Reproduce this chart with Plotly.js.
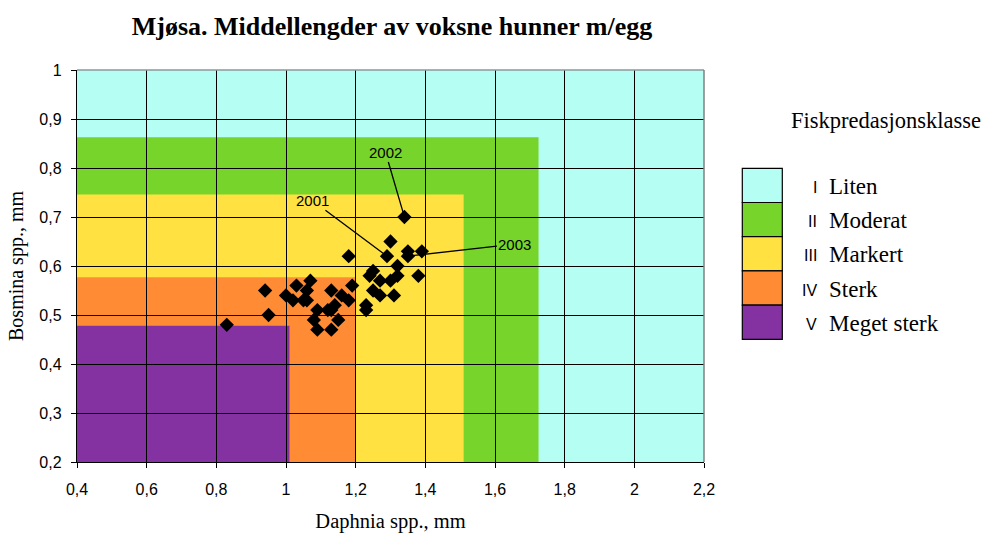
<!DOCTYPE html>
<html>
<head>
<meta charset="utf-8">
<script src="https://cdn.plot.ly/plotly-3.0.1.min.js"></script>
<style>html,body{margin:0;padding:0;background:#fff;}#chart{width:991px;height:539px;}</style>
</head>
<body>
<div id="chart"></div>
<script>
// Scatter data (Daphnia length, Bosmina length)
const daphnia = [0.83,0.94,0.95,1.00,1.02,1.03,1.05,1.06,1.06,1.07,1.08,1.09,1.09,1.12,1.13,1.13,1.13,1.14,1.15,1.16,1.18,1.19,1.18,1.23,1.23,1.24,1.25,1.25,1.27,1.27,1.29,1.30,1.30,1.31,1.32,1.32,1.34,1.35,1.35,1.38,1.39];
const bosmina = [0.48,0.55,0.50,0.54,0.53,0.56,0.53,0.53,0.55,0.57,0.49,0.51,0.47,0.51,0.55,0.47,0.51,0.52,0.49,0.54,0.53,0.56,0.62,0.52,0.51,0.58,0.59,0.55,0.57,0.54,0.62,0.65,0.57,0.54,0.60,0.58,0.70,0.63,0.62,0.58,0.63];

// Year labels
const yearLabels = ['2001','2002','2003'];
const yearX = [1.29,1.34,1.35];
const yearY = [0.62,0.70,0.62];

// Predation classes (bands)
const classNums = ['I','II','III','IV','V'];
const classNames = ['Liten','Moderat','Markert','Sterk','Meget sterk'];
const classXMax = [2.2,1.725,1.51,1.2,1.01];
const classYMax = [1.0,0.863,0.746,0.577,0.478];
const classColors = ['#B4FEF3','#77D42A','#FFE141','#FF8C34','#8431A1'];

const xRange = [0.4,2.2];
const yRange = [0.2,1.0];

const W = 991, H = 539;
const M = {l:77, r:287, t:70, b:77};
const PW = W - M.l - M.r, PH = H - M.t - M.b;
const px = v => (v - M.l) / PW;          // pixel x -> paper x
const py = v => (H - M.b - v) / PH;      // pixel y -> paper y

const shapes = [];
const annotations = [];

// bands
classNames.forEach((n,i) => {
  shapes.push({type:'rect', xref:'x', yref:'y', x0:xRange[0], x1:classXMax[i], y0:yRange[0], y1:classYMax[i],
    fillcolor:classColors[i], line:{width:0}, layer:'below'});
});
// gray top/right border
shapes.push({type:'line', xref:'paper', yref:'paper', x0:0, x1:1, y0:1, y1:1, line:{color:'#8a9a9a', width:1.5}, layer:'above'});
shapes.push({type:'line', xref:'paper', yref:'paper', x0:1, x1:1, y0:0, y1:1, line:{color:'#808080', width:1.5}, layer:'above'});

// legend boxes
const boxTop = 168.3, boxH = 34.2, boxL = 742.3, boxR = 782.3;
classNames.forEach((n,i) => {
  const t = boxTop + i*boxH, b = t + boxH;
  shapes.push({type:'rect', xref:'paper', yref:'paper', x0:px(boxL), x1:px(boxR), y0:py(b), y1:py(t),
    fillcolor:classColors[i], line:{color:'#000', width:1.2}, layer:'above'});
  const cy = (t+b)/2 + 1;
  annotations.push({xref:'paper', yref:'paper', x:px(819), y:py(cy+1), xanchor:'right', yanchor:'middle',
    text:classNums[i], showarrow:false, font:{family:'Liberation Sans, Arial', size:16, color:'#000'}});
  annotations.push({xref:'paper', yref:'paper', x:px(827), y:py(cy), xanchor:'left', yanchor:'middle',
    text:classNames[i], showarrow:false, font:{family:'Liberation Serif, Times New Roman', size:23, color:'#000'}});
});
annotations.push({xref:'paper', yref:'paper', x:px(886), y:py(121), xanchor:'center', yanchor:'middle',
  text:'Fiskpredasjonsklasse', showarrow:false, font:{family:'Liberation Serif, Times New Roman', size:22.5, color:'#000'}});

// year labels with leader lines
const offs = [[-75,-56],[-19,-65],[107,-12]];
yearLabels.forEach((t,i) => {
  annotations.push({xref:'x', yref:'y', x:yearX[i], y:yearY[i], text:t, showarrow:true, arrowhead:0,
    arrowwidth:1.3, arrowcolor:'#000', ax:offs[i][0], ay:offs[i][1], standoff:2,
    font:{family:'Liberation Sans, Arial', size:15, color:'#000'}});
});

const trace = {
  type:'scatter', mode:'markers', x:daphnia, y:bosmina,
  marker:{symbol:'diamond', size:11, color:'#000', line:{width:0}},
  hoverinfo:'x+y', showlegend:false
};

const axisCommon = {
  showgrid:true, gridcolor:'#000', gridwidth:1, zeroline:false,
  showline:true, linecolor:'#000', linewidth:1.2,
  ticks:'outside', ticklen:5, tickcolor:'#000', tickwidth:1,
  tickfont:{family:'Liberation Sans, Arial', size:16, color:'#000'},
  fixedrange:true
};

const layout = {
  width:W, height:H, margin:M,
  paper_bgcolor:'#fff', plot_bgcolor:'rgba(0,0,0,0)',
  separators:', ',
  title:{text:'<b>Mjøsa. Middellengder av voksne hunner m/egg</b>', x:px(392), xref:'paper', xanchor:'center',
    y:1-26/H, yref:'container', yanchor:'middle',
    font:{family:'Liberation Serif, Times New Roman', size:26, color:'#000'}},
  xaxis:Object.assign({}, axisCommon, {range:xRange, dtick:0.2, tick0:0.4, ticklabelstandoff:8,
    title:{text:'Daphnia spp., mm', standoff:16, font:{family:'Liberation Serif, Times New Roman', size:20.5, color:'#000'}}}),
  yaxis:Object.assign({}, axisCommon, {range:yRange, dtick:0.1, tick0:0.2, ticklabelstandoff:6,
    title:{text:'Bosmina spp., mm', standoff:10, font:{family:'Liberation Serif, Times New Roman', size:20, color:'#000'}}}),
  shapes:shapes, annotations:annotations, showlegend:false
};

Plotly.newPlot('chart', [trace], layout, {displayModeBar:false, staticPlot:true});
</script>
</body>
</html>
